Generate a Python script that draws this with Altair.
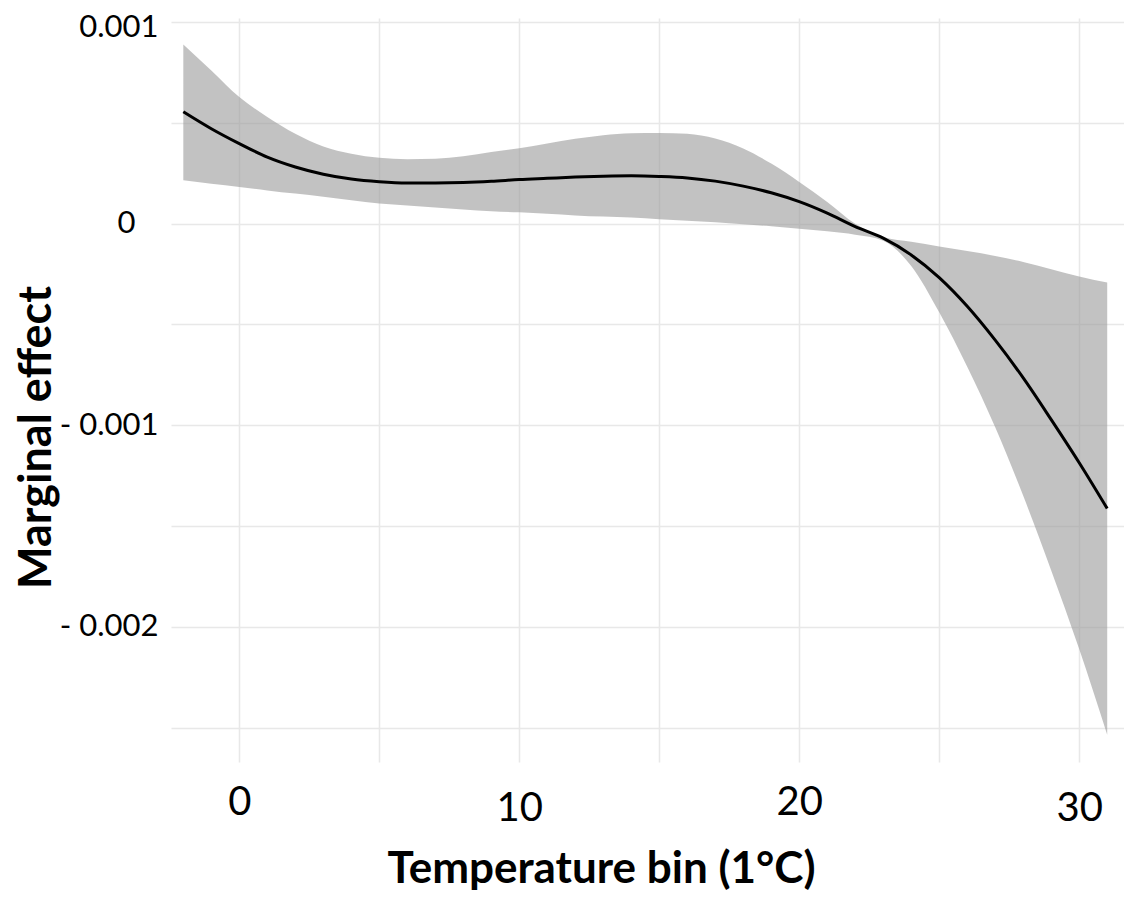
import altair as alt
import pandas as pd

# Temperature bins (°C)
temp = [-2, -1, 0, 1, 2, 3, 4, 5, 6, 7, 8, 9, 10, 11, 12, 13, 14, 15, 16,
        17, 18, 19, 20, 21, 22, 23, 24, 25, 26, 27, 28, 29, 30, 31]
# Marginal effect (x 1e-3)
effect = [0.555, 0.471, 0.397, 0.330, 0.281, 0.245, 0.221, 0.208, 0.202, 0.202,
          0.204, 0.210, 0.219, 0.225, 0.231, 0.235, 0.237, 0.234, 0.227, 0.211,
          0.186, 0.153, 0.109, 0.052, -0.015, -0.072, -0.155, -0.268, -0.410,
          -0.578, -0.765, -0.972, -1.186, -1.413]
upper = [0.889, 0.760, 0.628, 0.529, 0.446, 0.383, 0.347, 0.327, 0.320, 0.322,
         0.334, 0.355, 0.374, 0.397, 0.421, 0.439, 0.449, 0.450, 0.446, 0.422,
         0.373, 0.298, 0.207, 0.108, 0.000, -0.066, -0.090, -0.113, -0.136,
         -0.160, -0.190, -0.226, -0.262, -0.292]
lower = [0.215, 0.198, 0.182, 0.165, 0.149, 0.133, 0.116, 0.100, 0.090, 0.080,
         0.070, 0.061, 0.056, 0.049, 0.041, 0.035, 0.030, 0.022, 0.015, 0.007,
         -0.003, -0.013, -0.025, -0.038, -0.055, -0.085, -0.210, -0.440, -0.710,
         -1.010, -1.350, -1.720, -2.110, -2.535]

x_grid = [0, 5, 10, 15, 20, 25, 30]
y_grid = [-0.0025, -0.002, -0.0015, -0.001, -0.0005, 0, 0.0005, 0.001]

df = pd.DataFrame({
    "temp": temp,
    "effect": [v * 1e-3 for v in effect],
    "upper": [v * 1e-3 for v in upper],
    "lower": [v * 1e-3 for v in lower],
})

FONT = "Lato"

x_scale = alt.Scale(domain=[-2.44, 31.6], nice=False, zero=False)
y_scale = alt.Scale(domain=[-0.00267, 0.00102], nice=False, zero=False)

x_axis = alt.Axis(
    values=x_grid,
    labelExpr="datum.value % 10 == 0 ? datum.label : ''",
    labelFont=FONT, labelFontSize=40, labelColor="black",
    labelPadding={"condition": {"test": "datum.value == 10 || datum.value == 30", "value": 26}, "value": 20},
    labelOverlap=False, labelFlush=False,
    title="Temperature bin (1°C)",
    titleFont=FONT, titleFontSize=44, titleFontWeight="bold", titleColor="black",
    titleX=430, titleY=120, titleAlign="center", titleBaseline="alphabetic",
    domain=False, ticks=False,
    grid=True, gridColor="#e8e8e8", gridWidth=1.5,
)

y_axis = alt.Axis(
    values=y_grid,
    labelExpr=("abs(datum.value*1000 - round(datum.value*1000)) < 1e-6 ? "
               "(datum.value < -1e-9 ? '- ' + format(-datum.value, '.3f') : "
               "(abs(datum.value) < 1e-9 ? '0' : format(datum.value, '.3f'))) : ''"),
    labelFont=FONT, labelFontSize=31, labelColor="black",
    labelPadding={"condition": {"test": "abs(datum.value) < 1e-9", "value": 36}, "value": 13},
    labelOffset={"condition": {"test": "datum.value > 0.0009", "value": 5}, "value": 0},
    labelOverlap=False, labelBound=False,
    title="Marginal effect",
    titleFont=FONT, titleFontSize=45, titleFontWeight="bold", titleColor="black",
    titleX=-135, titleY=419, titleAngle=-90, titleAlign="center", titleBaseline="middle",
    domain=False, ticks=False,
    grid=True, gridColor="#e8e8e8", gridWidth=1.5,
)

band = alt.Chart(df).mark_area(color="#999999", opacity=0.6, interpolate="monotone").encode(
    x=alt.X("temp:Q", scale=x_scale, axis=x_axis),
    y=alt.Y("lower:Q", scale=y_scale, axis=y_axis),
    y2="upper:Q",
)

line = alt.Chart(df).mark_line(color="black", strokeWidth=3, interpolate="monotone").encode(
    x=alt.X("temp:Q", scale=x_scale),
    y=alt.Y("effect:Q", scale=y_scale),
)

chart = alt.layer(band, line).properties(
    width=953, height=744,
    autosize=alt.AutoSizeParams(type="none"),
    padding={"left": 163, "top": 10, "right": 0, "bottom": 132},
    background="white",
).configure_view(stroke=None)

chart.save("out.html", embed_options={"renderer": "svg", "actions": False})
